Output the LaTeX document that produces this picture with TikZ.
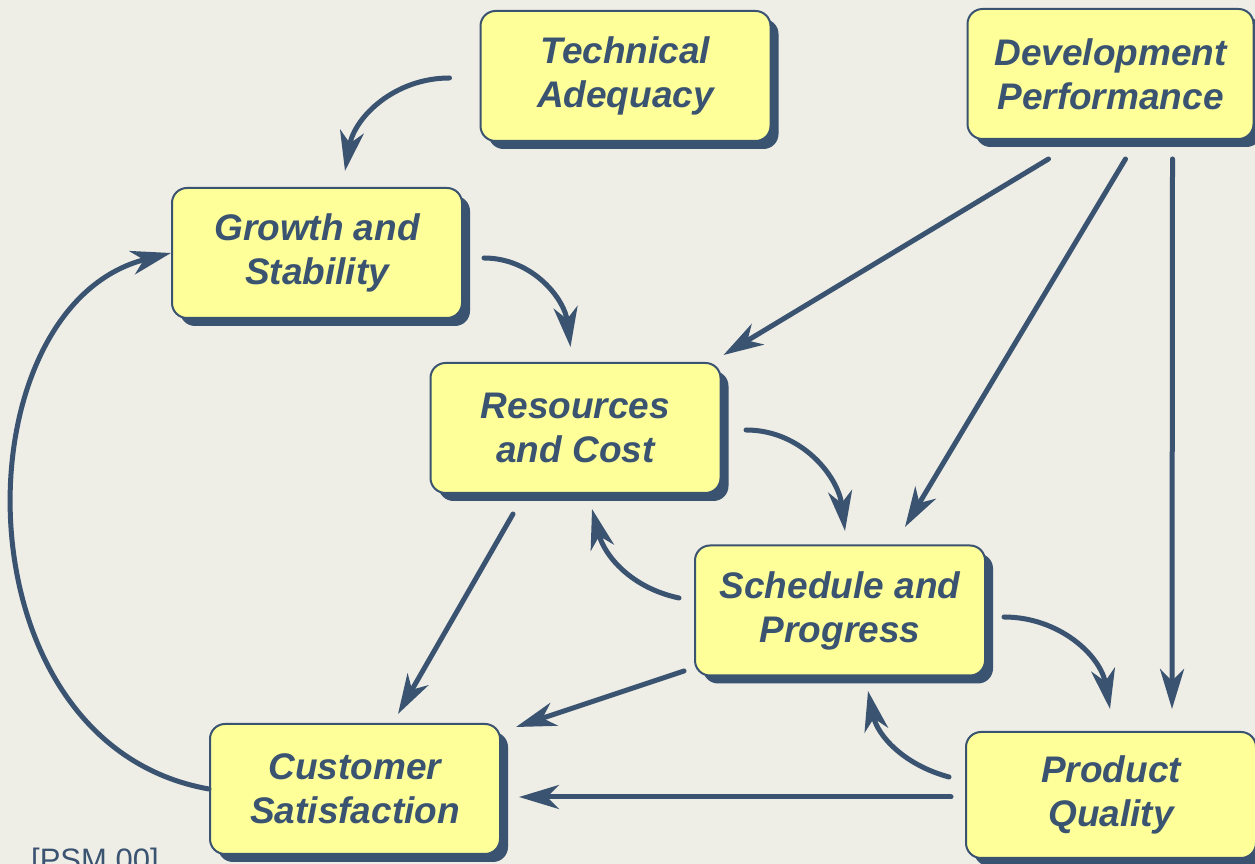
\documentclass[tikz,border=0pt]{standalone}
\usepackage{fontspec}
\setmainfont{Liberation Sans}
\usetikzlibrary{arrows.meta,shadows}
\definecolor{paper}{HTML}{EEEDE6}
\definecolor{slate}{HTML}{3A5371}
\definecolor{pale}{HTML}{FFFF99}
\tikzset{
	factor/.style={
			draw=slate, line width=2pt, fill=pale, rounded corners=15pt,
			minimum width=290pt, minimum height=130pt, align=center,
			text=slate, font=\fontsize{37}{44}\selectfont\bfseries\itshape,
			drop shadow={shadow xshift=8pt, shadow yshift=-8pt, opacity=1, fill=slate}
		},
	arr/.style={
			draw=slate, line width=5pt, line cap=round,
			-{Stealth[length=40pt, width=24pt, inset=12pt]}
		}
}
\begin{document}
\begin{tikzpicture}[x=1pt, y=1pt]
		\fill[paper] (0,0) rectangle (1255,864);
		\useasboundingbox (0,0) rectangle (1255,864);
		\clip (0,0) rectangle (1255,864);

		% Measurement categories
		\node[factor] (tech) at (625.5,788) {Technical\\Adequacy};
		\node[factor, minimum width=286pt] (devperf) at (1110.5,790) {Development\\Performance};
		\node[factor] (growth) at (317,611) {Growth and\\Stability};
		\node[factor] (resources) at (575.5,436) {Resources\\and Cost};
		\node[factor] (schedule) at (840,253.5) {Schedule and\\Progress};
		\node[factor] (customer) at (355,75) {Customer\\Satisfaction};
		\node[factor, minimum height=126pt] (quality) at (1111,69) {Product\\Quality};

		% Curved influences
		\draw[arr] ([shift={(-30,-2)}]tech.west) to[out=180, in=80] ([shift={(28,16)}]growth.north);
		\draw[arr] ([shift={(21,-5)}]growth.east) to[out=0, in=97] ([shift={(-5,15)}]resources.north);
		\draw[arr] ([shift={(24.5,-2)}]resources.east) to[out=0, in=97] ([shift={(5,13.5)}]schedule.north);
		\draw[arr] ([shift={(18,-6.5)}]schedule.east) to[out=0, in=100] ([shift={(-1,22)}]quality.north);
		\draw[arr] ([shift={(-15,12.5)}]schedule.west) to[out=168, in=-75] ([shift={(16.5,-15)}]resources.south);
		\draw[arr] ([shift={(-16,18)}]quality.west) to[out=165, in=-78] ([shift={(28,-14.5)}]schedule.south);
		\draw[arr] (customer.west) to[out=170, in=194, out distance=260pt, in distance=220pt] (growth.west);

		% Straight influences
		\draw[arr] ([shift={(-62,-19)}]devperf.south) -- ([shift={(2,7)}]resources.north east);
		\draw[arr] ([shift={(15,-19)}]devperf.south) -- ([shift={(65,17.5)}]schedule.north);
		\draw[arr] ([shift={(62,-19)}]devperf.south) -- ([shift={(61,22)}]quality.north);
		\draw[arr] ([shift={(-62.5,-20)}]resources.south) -- ([shift={(43,9)}]customer.north);
		\draw[arr] ([shift={(-10,5.5)}]schedule.south west) -- ([shift={(15,-4)}]customer.north east);
		\draw[arr] ([shift={(-14,-2)}]quality.west) -- ([shift={(18,-8)}]customer.east);

		% Source
		\node[anchor=base west, text=slate, font=\fontsize{31}{31}\selectfont, inner sep=0pt] (source) at (31,-7) {[PSM 00]};
	\end{tikzpicture}
\end{document}
